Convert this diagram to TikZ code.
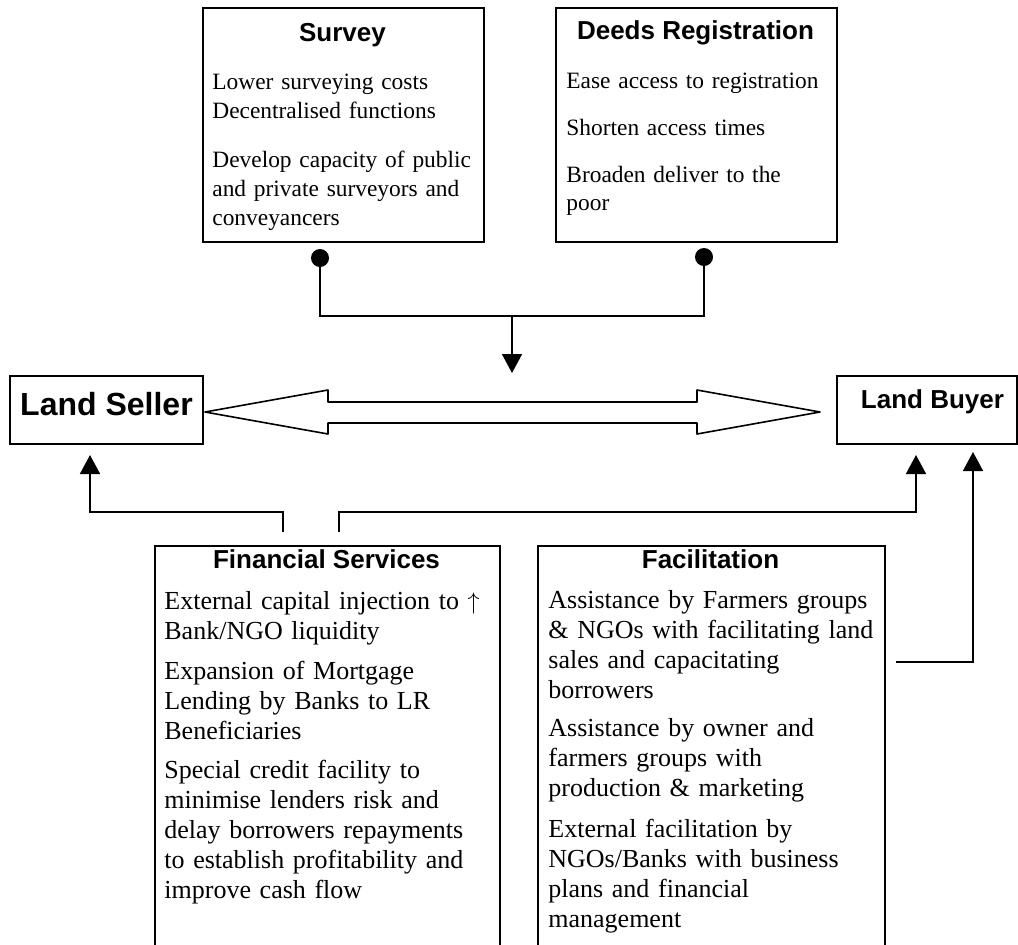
\documentclass[tikz,border=0pt]{standalone}
\usepackage{fontspec}
\setmainfont{Liberation Serif}
\newfontfamily\headfont{Liberation Sans}
\usetikzlibrary{arrows.meta}

\tikzset{
  box/.style={draw,line width=1pt,inner sep=0pt,anchor=north west},
  head/.style={inner sep=0pt,anchor=base,font=\headfont\fontsize{13}{15}\selectfont\bfseries},
  bodytext/.style={inner sep=0pt,anchor=base west,align=left,text width=190pt},
  dot/.style={circle,fill,inner sep=0pt,minimum size=9pt},
  link/.style={line width=0.8pt},
  arr/.style={line width=0.8pt,-{Triangle[length=9.5pt,width=10pt]}},
}

\begin{document}
\begin{tikzpicture}[x=0.5pt,y=-0.5pt]
  \useasboundingbox (0,0) rectangle (1018,944);
  \clip (0,0) rectangle (1018,944);

  % top boxes
  \node[box,minimum width=140.5pt,minimum height=117pt] (survey) at (202,7) {};
  \node[head] (surveyhead) at (342.5,41) {Survey};
  \node[bodytext,font=\fontsize{11.7}{14.5}\selectfont] (surveytext) at (212,89)
    {Lower surveying costs\\ Decentralised functions\\[10pt]
     Develop capacity of public\\ and private surveyors and\\ conveyancers};

  \node[box,minimum width=140.5pt,minimum height=117pt] (deeds) at (555,7) {};
  \node[head] (deedshead) at (695.5,39) {Deeds Registration};
  \node[bodytext,font=\fontsize{11.7}{14}\selectfont] (deedstext) at (566,88)
    {Ease access to registration\\[9.5pt] Shorten access times\\[9.5pt]
     Broaden deliver to the\\ poor};

  % seller and buyer
  \node[box,minimum width=96.5pt,minimum height=34pt,text depth=6pt,
        font=\headfont\fontsize{16}{18}\selectfont\bfseries] (seller) at (9,375) {Land Seller};
  \node[box,minimum width=90pt,minimum height=34pt,text depth=11pt,
        font=\headfont\fontsize{13}{15}\selectfont\bfseries] (buyer) at (836,375) {\hspace*{5.5pt}Land Buyer};

  % bottom boxes
  \node[box,minimum width=172.5pt,minimum height=210pt] (fin) at (154,545) {};
  \node[head] (finhead) at (326.5,568) {Financial Services};
  \node[bodytext,font=\fontsize{13}{15}\selectfont] (fintext) at (164,609)
    {External capital injection to $\uparrow$\\ Bank/NGO liquidity\\[5pt]
     Expansion of Mortgage\\ Lending by Banks to LR\\ Beneficiaries\\[4.5pt]
     Special credit facility to\\ minimise lenders risk and\\ delay borrowers repayments\\
     to establish profitability and\\ improve cash flow};

  \node[box,minimum width=173.5pt,minimum height=210pt] (fac) at (537,545) {};
  \node[head] (fachead) at (710.5,568) {Facilitation};
  \node[bodytext,font=\fontsize{13}{15}\selectfont] (factext) at (548,608)
    {Assistance by Farmers groups\\ \& NGOs with facilitating land\\ sales and capacitating\\ borrowers\\[4pt]
     Assistance by owner and\\ farmers groups with\\ production \& marketing\\[5.5pt]
     External facilitation by\\ NGOs/Banks with business\\ plans and financial\\ management};

  % survey and deeds feed the transaction
  \node[dot] (sdot) at (320,258) {};
  \node[dot] (ddot) at (704,257) {};
  \coordinate (join) at (512,316);
  \coordinate (tradein) at (512,373);
  \draw[link] (sdot.center) |- (join) -| (ddot.center);
  \draw[arr] (join) -- (tradein);

  % transaction between seller and buyer
  \draw[link,line join=round] (205,412) -- (328,390) -- (328,402) -- (697,402) -- (697,390)
    -- (820,412) -- (697,434) -- (697,423) -- (328,423) -- (328,434) -- cycle;

  % support from below
  \coordinate (finl) at (283,532);
  \coordinate (finr) at (339,532);
  \coordinate (sellerin) at (90,455);
  \coordinate (buyerinl) at (916,455);
  \coordinate (buyerinr) at (973,452);
  \coordinate (facout) at (896,662);
  \draw[arr] (finl) -- (283,512) -| (sellerin);
  \draw[arr] (finr) -- (339,512) -| (buyerinl);
  \draw[arr] (facout) -| (buyerinr);
\end{tikzpicture}
\end{document}
